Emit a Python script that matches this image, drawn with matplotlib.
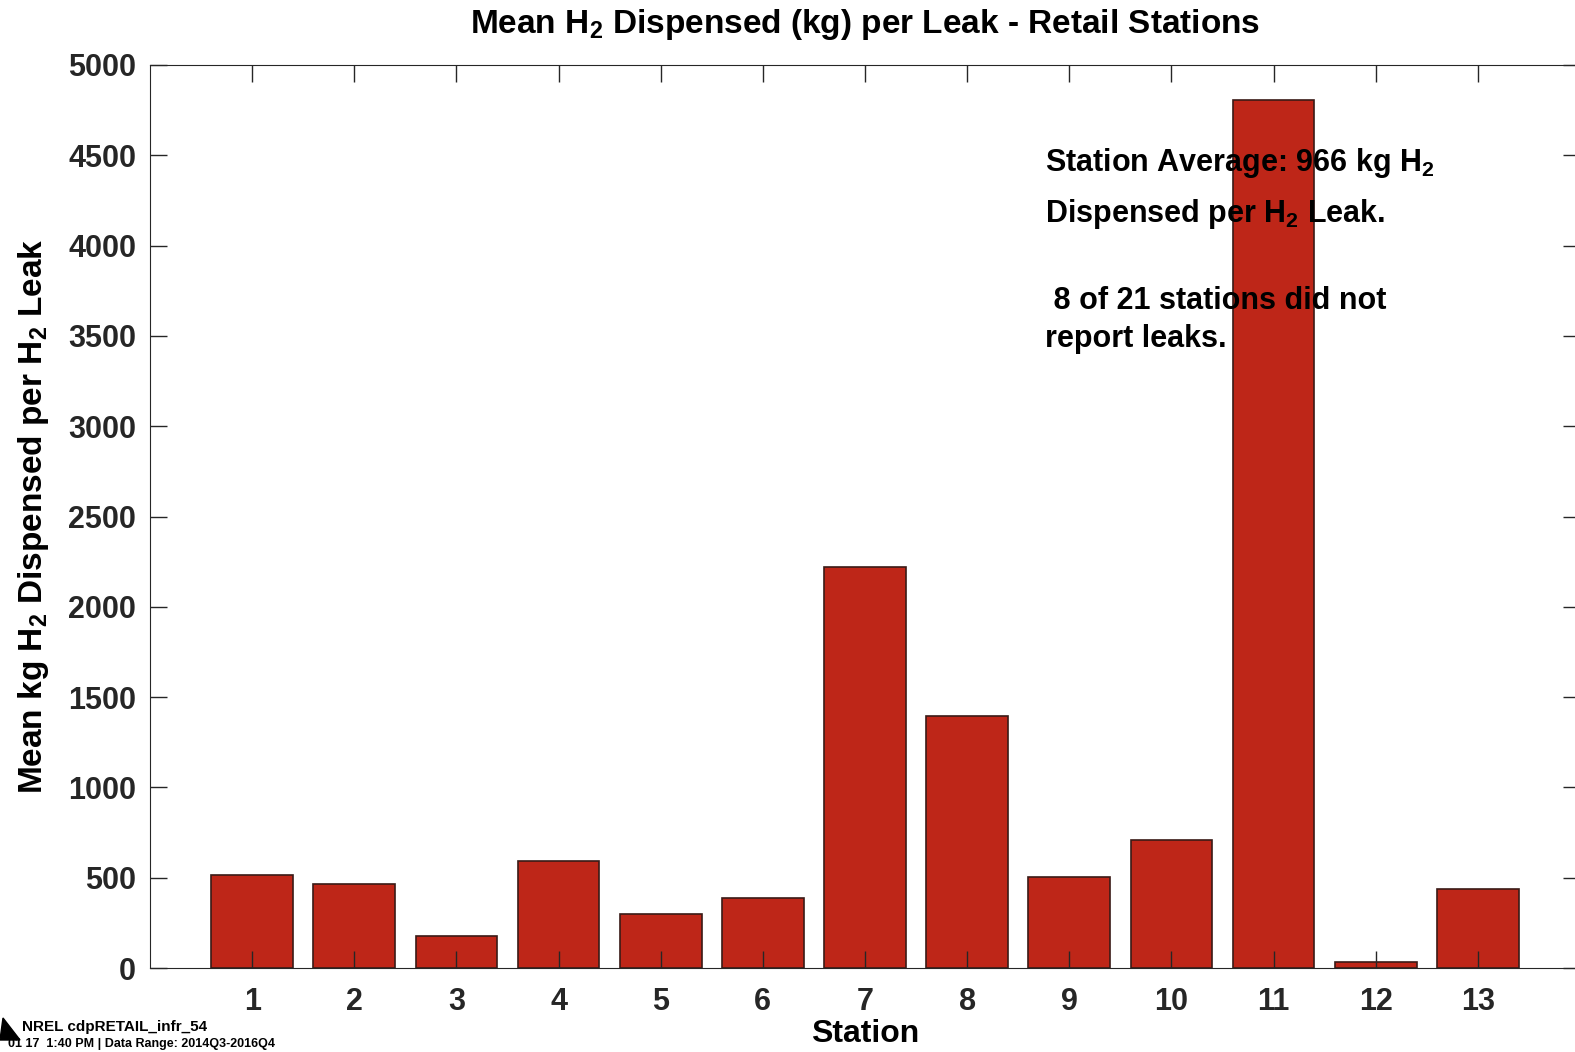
import matplotlib
matplotlib.use("Agg")
import matplotlib.pyplot as plt
from matplotlib.patches import Polygon

# data
stations = list(range(1, 14))
mean_kg = [515, 465, 177, 590, 300, 390, 2220, 1395, 504, 710, 4805, 35, 440]
yticks = [0, 500, 1000, 1500, 2000, 2500, 3000, 3500, 4000, 4500, 5000]

plt.rcParams['font.family'] = ['Liberation Sans', 'DejaVu Sans']
plt.rcParams['font.weight'] = 'bold'
plt.rcParams['mathtext.fontset'] = 'custom'
plt.rcParams['mathtext.bf'] = 'Liberation Sans:bold'
plt.rcParams['mathtext.rm'] = 'Liberation Sans:bold'
plt.rcParams['mathtext.default'] = 'bf'

W, H = 1575, 1052
fig = plt.figure(figsize=(W / 100, H / 100), dpi=100)
ax = fig.add_axes([150 / W, 1 - 968 / H, 1430 / W, (968 - 65) / H])

ax.bar(stations, mean_kg, width=0.8, color='#BE2618', edgecolor='#3a1a16', linewidth=1.2)

ax.set_xlim(0, 14)
ax.set_ylim(0, 5000)
ax.set_xticks(stations)
ax.set_yticks(yticks)
ax.tick_params(direction='in', length=12, width=1, colors='#262626',
               labelsize=22, top=True, right=True)
ax.tick_params(axis='x', pad=14)
ax.tick_params(axis='y', pad=10)
for lbl in ax.get_xticklabels() + ax.get_yticklabels():
    lbl.set_fontweight('bold')
for s in ax.spines.values():
    s.set_color('#262626')

fig.text(865 / W, 1 - 25 / H, r'Mean H$_2$ Dispensed (kg) per Leak - Retail Stations',
         fontsize=24, fontweight='bold', ha='center', va='center')
ax.set_xlabel('Station', fontsize=23, fontweight='bold', labelpad=1)
ax.set_ylabel(r'Mean kg H$_2$ Dispensed per H$_2$ Leak', fontsize=24,
              fontweight='bold', labelpad=12)

# annotation block (drawn over the tall bar)
fs = 22
fig.text(1045 / W, 1 - 163 / H, r'Station Average: 966 kg H$_2$',
         fontsize=fs, fontweight='bold', va='center')
fig.text(1045 / W, 1 - 214 / H, r'Dispensed per H$_2$ Leak.',
         fontsize=fs, fontweight='bold', va='center')
fig.text(1045 / W, 1 - 301 / H, ' 8 of 21 stations did not',
         fontsize=fs, fontweight='bold', va='center')
fig.text(1045 / W, 1 - 339 / H, 'report leaks.',
         fontsize=fs, fontweight='bold', va='center')

# footer
tri = Polygon([[0, 1 - 1040 / H], [20 / W, 1 - 1040 / H], [3 / W, 1 - 1018 / H]],
              closed=True, transform=fig.transFigure, color='black')
fig.patches.append(tri)
fig.text(22 / W, 1 - 1027 / H, 'NREL cdpRETAIL_infr_54', fontsize=11,
         fontweight='bold', va='center')
fig.text(8 / W, 1 - 1044 / H, '01 17  1:40 PM | Data Range: 2014Q3-2016Q4',
         fontsize=9, va='center')

fig.savefig('out.png', dpi=100)
